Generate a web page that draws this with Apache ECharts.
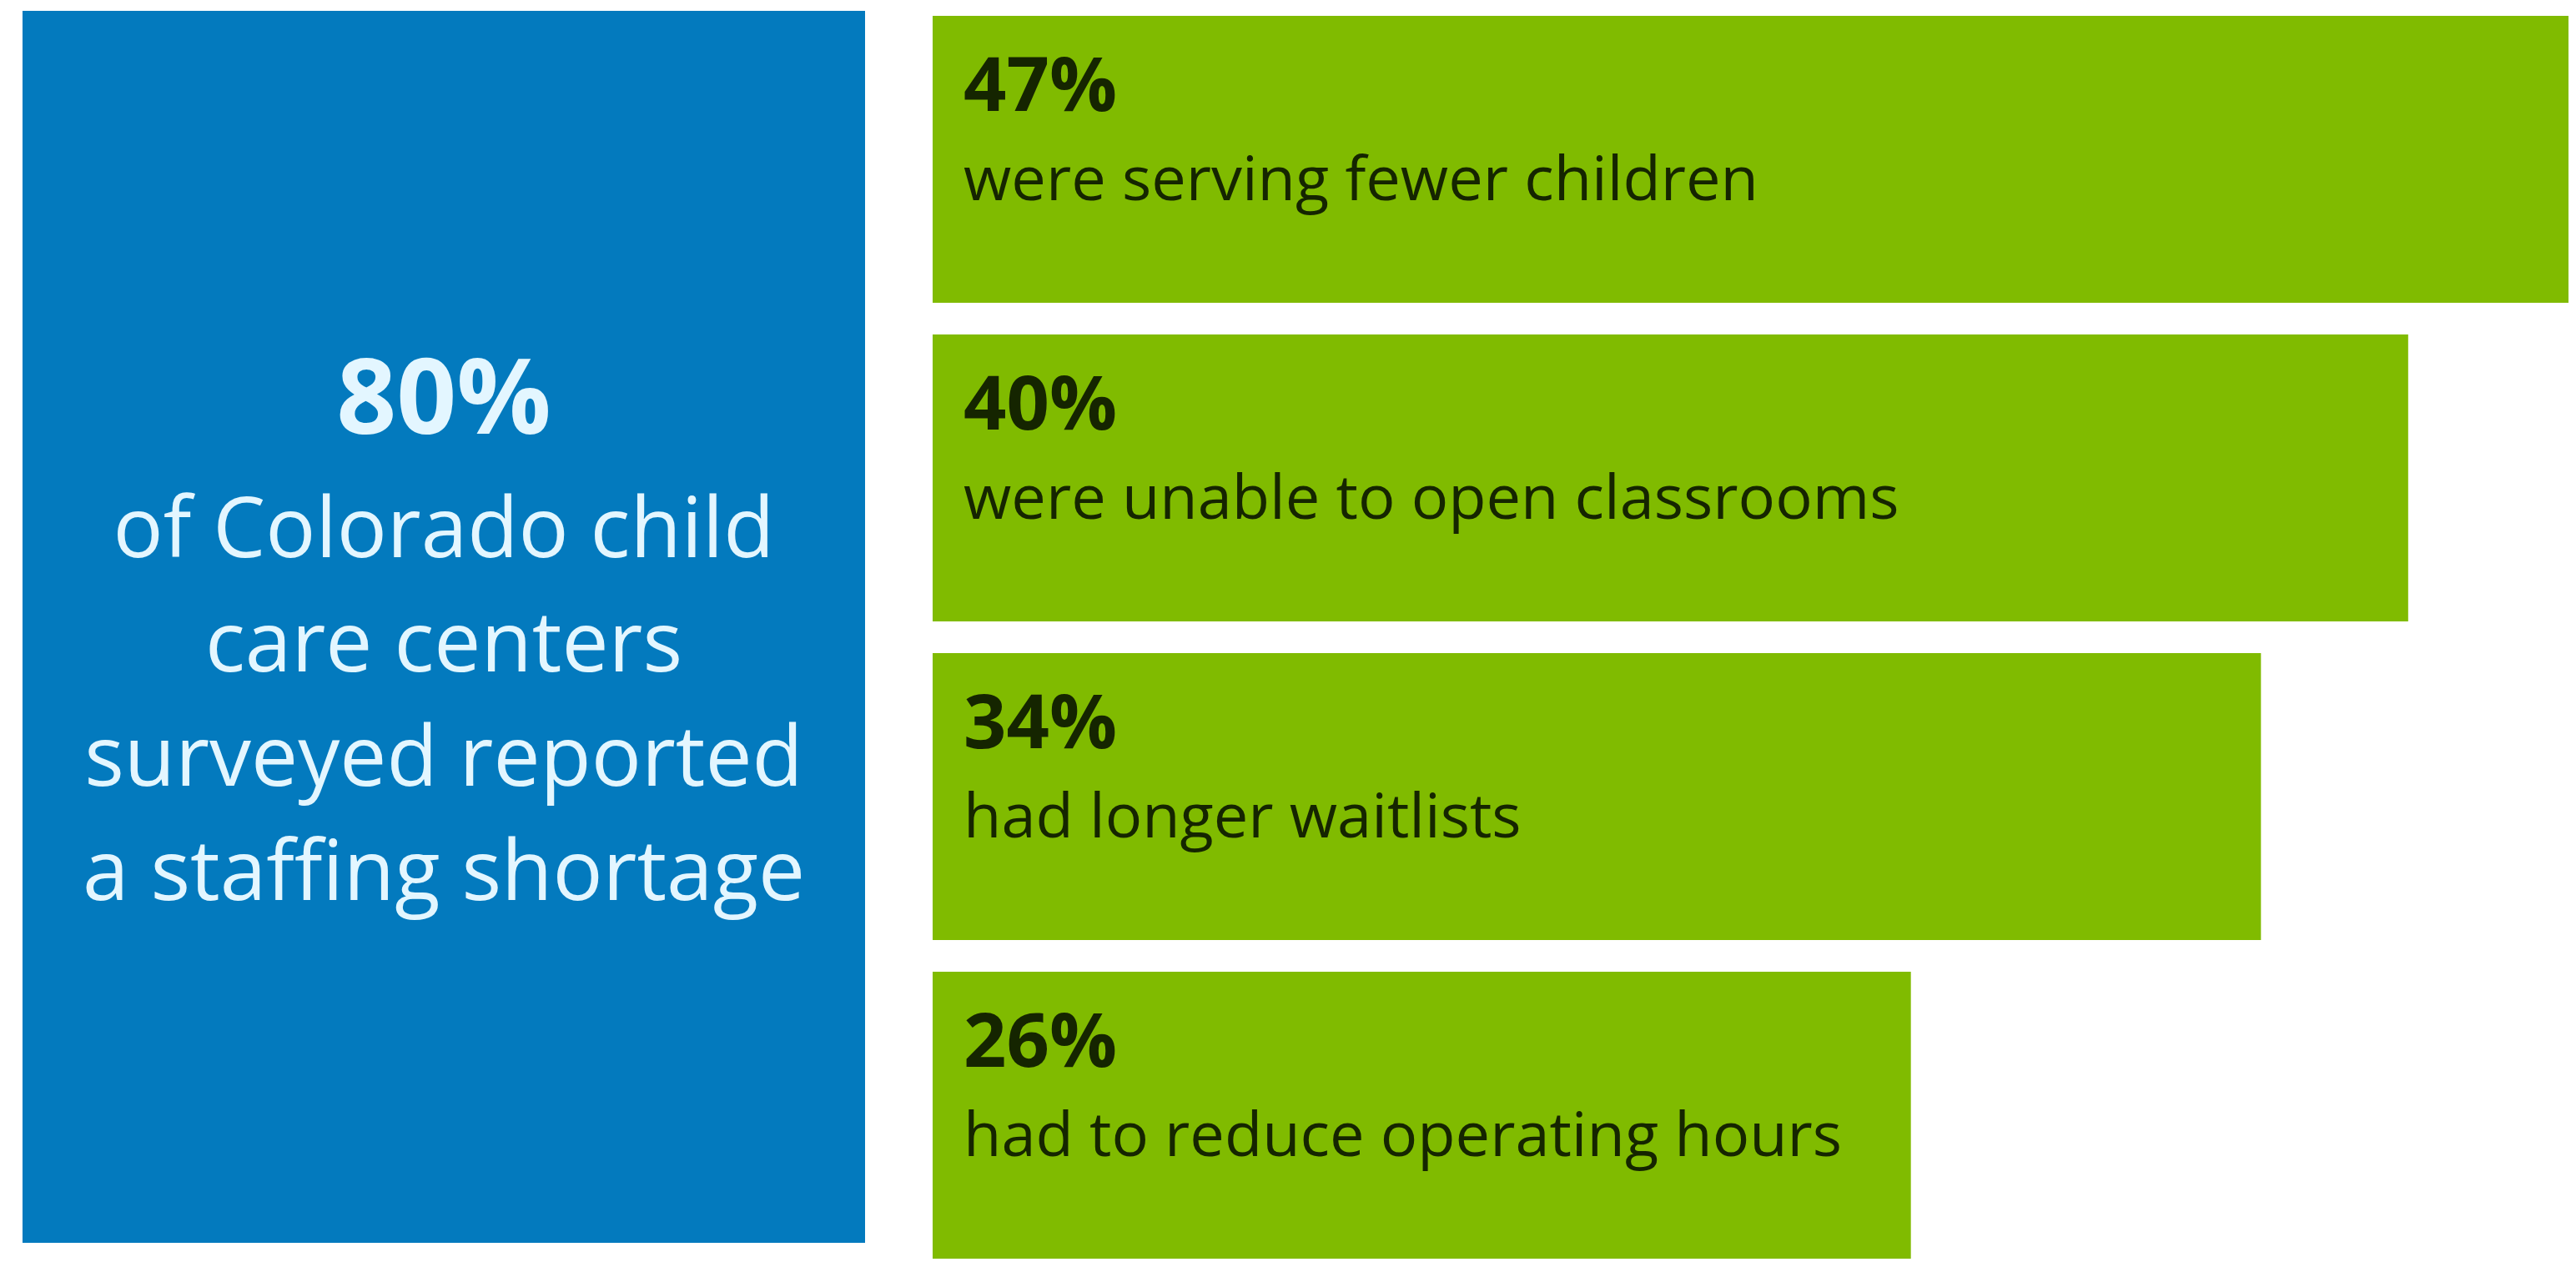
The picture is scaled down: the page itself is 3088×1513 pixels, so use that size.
<!DOCTYPE html>
<html>
<head>
<meta charset="utf-8">
<script src="https://cdn.jsdelivr.net/npm/echarts@6/dist/echarts.min.js"></script>
<style>
html,body{margin:0;padding:0;background:#ffffff;}
#chart{width:3088px;height:1513px;}
</style>
</head>
<body>
<div id="chart"></div>
<script>
// ---- data ----
const categories = [
  'were serving fewer children',
  'were unable to open classrooms',
  'had longer waitlists',
  'had to reduce operating hours'
];
const percentValues = [47, 40, 34, 26];          // printed percentages
const barLengths = [100, 90.2, 81.2, 59.8];      // drawn bar length (% of longest)
const headlineValue = '80%';
const headlineLines = ['of Colorado child', 'care centers', 'surveyed reported', 'a staffing shortage'];

const BLUE = '#037ABE';
const GREEN = '#80BB00';
const FONT = '"Open Sans", "Noto Sans", sans-serif';

const chart = echarts.init(document.getElementById('chart'));

const graphic = [
  { type: 'rect', shape: { x: 27, y: 13, width: 1010, height: 1477 }, style: { fill: BLUE }, z: 0 },
  { type: 'text', x: 532, y: 484, style: { text: headlineValue, fill: '#E3F6FF', font: 'bold 126px ' + FONT, textAlign: 'center', textVerticalAlign: 'middle' }, z: 1 }
];
headlineLines.forEach((t, i) => {
  graphic.push({ type: 'text', x: 532, y: 640 + i * 137, style: { text: t, fill: '#E3F6FF', font: '100px ' + FONT, textAlign: 'center', textVerticalAlign: 'middle' }, z: 1 });
});

chart.setOption({
  animation: false,
  backgroundColor: '#ffffff',
  grid: { left: 1118, top: 0, width: 1961, height: 1528, outerBoundsMode: 'none', containLabel: false },
  xAxis: { type: 'value', min: 0, max: 100, show: false },
  yAxis: { type: 'category', data: categories, inverse: true, show: false },
  graphic: graphic,
  series: [{
    type: 'bar',
    barWidth: 344,
    itemStyle: { color: GREEN },
    data: barLengths.map(v => ({ value: v })),
    label: {
      show: true,
      position: [37, 32],
      align: 'left',
      verticalAlign: 'top',
      formatter: p => '{pct|' + percentValues[p.dataIndex] + '%}\n{desc|' + categories[p.dataIndex] + '}',
      rich: {
        pct: { fontFamily: FONT, fontWeight: 'bold', fontSize: 90, lineHeight: 112, color: '#152500' },
        desc: { fontFamily: FONT, fontSize: 74, lineHeight: 112, color: '#152500' }
      }
    }
  }]
});
</script>
</body>
</html>
